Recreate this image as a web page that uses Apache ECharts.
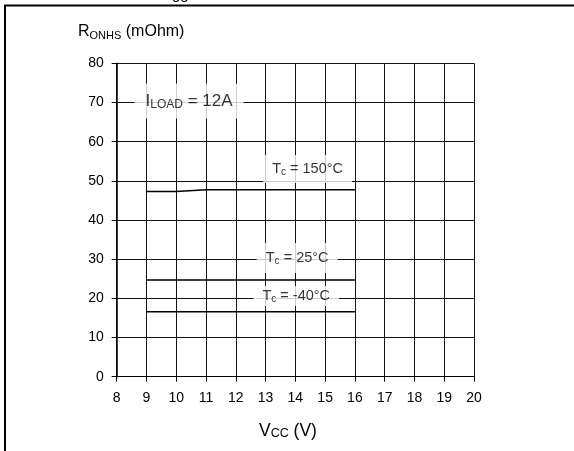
<!DOCTYPE html>
<html><head><meta charset="utf-8">
<script src="https://cdn.jsdelivr.net/npm/echarts@6/dist/echarts.min.js"></script>
<style>html,body{margin:0;padding:0;background:#fff}#c{width:574px;height:451px}</style>
</head><body><div id="c"></div>
<script>
// Data
const vcc = [9, 10, 11, 12, 13, 14, 15, 16];
const ron150 = [47.3, 47.3, 47.7, 47.7, 47.7, 47.7, 47.7, 47.7];
const ron25 = [24.7, 24.7, 24.7, 24.7, 24.7, 24.7, 24.7, 24.7];
const ronM40 = [16.6, 16.6, 16.6, 16.6, 16.6, 16.6, 16.6, 16.6];
const xRange = [8, 20];
const yRange = [0, 80];
const seriesNames = ['Tc = 150°C', 'Tc = 25°C', 'Tc = -40°C'];

const FONT = 'Liberation Sans, Arial, sans-serif';
const pair = (xs, ys) => xs.map((x, i) => [x, ys[i]]);

const chart = echarts.init(document.getElementById('c'), null, {renderer: 'canvas'});

const tcRich = {
  m: {fontSize: 14.5, fontFamily: FONT, color: '#000', lineHeight: 16},
  s: {fontSize: 10, fontFamily: FONT, color: '#000', lineHeight: 10, verticalAlign: 'bottom'}
};

function labelSeries(x, y, text, rich, padding) {
  return {
    type: 'scatter', symbolSize: 0, silent: true, z: 5,
    data: [[x, y]],
    label: {
      show: true, position: 'inside', formatter: text, rich: rich,
      backgroundColor: '#fff', padding: padding
    }
  };
}

const option = {
  animation: false,
  backgroundColor: '#fff',
  grid: {left: 116.7, right: 100, top: 63.3, bottom: 74.3, containLabel: false},
  xAxis: {
    type: 'value', min: xRange[0], max: xRange[1], interval: 1,
    axisLine: {show: true, onZero: false, lineStyle: {color: '#000', width: 1}},
    axisTick: {show: true, length: 5, lineStyle: {color: '#000'}},
    axisLabel: {color: '#000', fontSize: 14, fontFamily: FONT, margin: 14},
    splitLine: {show: true, lineStyle: {color: '#111', width: 1}}
  },
  yAxis: {
    type: 'value', min: yRange[0], max: yRange[1], interval: 10,
    axisLine: {show: true, onZero: false, lineStyle: {color: '#000', width: 1.5}},
    axisTick: {show: true, length: 5, lineStyle: {color: '#000'}},
    axisLabel: {color: '#000', fontSize: 14, fontFamily: FONT, margin: 13},
    splitLine: {show: true, lineStyle: {color: '#111', width: 1}}
  },
  series: [
    {name: seriesNames[0], type: 'line', symbol: 'none', data: pair(vcc, ron150), lineStyle: {color: '#000', width: 1.5}, z: 3},
    {name: seriesNames[1], type: 'line', symbol: 'none', data: pair(vcc, ron25), lineStyle: {color: '#000', width: 1.5}, z: 3},
    {name: seriesNames[2], type: 'line', symbol: 'none', data: pair(vcc, ronM40), lineStyle: {color: '#000', width: 1.5}, z: 3},
    labelSeries(10.43, 70.4, '{m|I}{s|LOAD}{m| = 12A}', {
      m: {fontSize: 17, fontFamily: FONT, color: '#000', lineHeight: 19},
      s: {fontSize: 12, fontFamily: FONT, color: '#000', lineHeight: 12, verticalAlign: 'bottom'}
    }, [8, 11]),
    labelSeries(14.41, 53, '{m|T}{s|c}{m| = 150°C}', tcRich, [6, 9]),
    labelSeries(14.06, 30.3, '{m|T}{s|c}{m| = 25°C}', tcRich, [7, 9]),
    labelSeries(14.03, 20.6, '{m|T}{s|c}{m| = -40°C}', tcRich, [2, 9])
  ],
  graphic: [
    {type: 'line', shape: {x1: 4, y1: 5.5, x2: 574, y2: 5.5}, style: {stroke: '#000', lineWidth: 2}},
    {type: 'line', shape: {x1: 5, y1: 5, x2: 5, y2: 451}, style: {stroke: '#000', lineWidth: 2}},
    {type: 'text', left: 172, top: -13, style: {text: 'gg', font: '15px ' + FONT, fill: '#000'}},
    {type: 'text', left: 78, top: 24, style: {
      text: '{m|R}{s|ONHS}{m| (mOhm)}',
      rich: {
        m: {fontSize: 16, fontFamily: FONT, fill: '#000', lineHeight: 18},
        s: {fontSize: 11, fontFamily: FONT, fill: '#000', lineHeight: 12, verticalAlign: 'bottom'}
      }
    }},
    {type: 'text', left: 259, top: 422, style: {
      text: '{m|V}{s|CC}{m| (V)}',
      rich: {
        m: {fontSize: 17.5, fontFamily: FONT, fill: '#000', lineHeight: 19},
        s: {fontSize: 12.5, fontFamily: FONT, fill: '#000', lineHeight: 13, verticalAlign: 'bottom'}
      }
    }}
  ]
};
chart.setOption(option);
</script>
</body></html>
